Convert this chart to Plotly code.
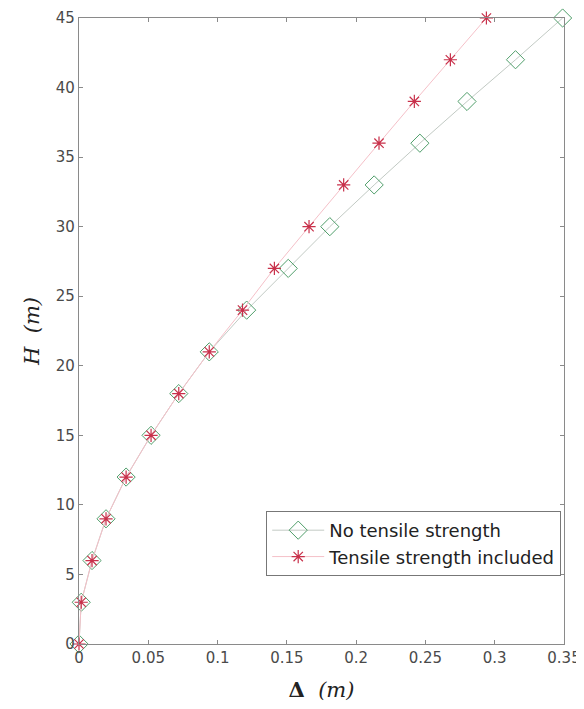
import plotly.graph_objects as go

H = [0, 3, 6, 9, 12, 15, 18, 21, 24, 27, 30, 33, 36, 39, 42, 45]
delta_no_tensile = [0, 0.0016, 0.0094, 0.0195, 0.034, 0.052, 0.072, 0.094, 0.121, 0.151, 0.181, 0.213, 0.246, 0.280, 0.315, 0.349]
delta_tensile = [0, 0.0016, 0.0094, 0.0195, 0.034, 0.052, 0.072, 0.094, 0.118, 0.141, 0.166, 0.191, 0.2165, 0.242, 0.268, 0.294]

fig = go.Figure()
fig.add_trace(go.Scatter(
    x=delta_no_tensile, y=H, mode="lines+markers", name="No tensile strength",
    line=dict(color="#c2cac4", width=1), cliponaxis=False,
    marker=dict(symbol="diamond-open", size=14, color="#4f9e6a", line=dict(width=1)),
))
fig.add_trace(go.Scatter(
    x=delta_tensile, y=H, mode="lines+markers", name="Tensile strength included",
    line=dict(color="#f5c0c8", width=1), cliponaxis=False,
    marker=dict(symbol="asterisk-open", size=11, color="#c8304a", line=dict(width=1.2, color="#c8304a")),
))

axis_common = dict(
    showgrid=False, zeroline=False, showline=True, linecolor="#8a8a8a", linewidth=1.2,
    mirror="ticks", ticks="inside", ticklen=4, tickcolor="#8a8a8a", automargin=False,
    tickfont=dict(family="DejaVu Sans", size=15, color="#4a4a4a"),
)
fig.update_xaxes(range=[0, 0.35], dtick=0.05, tickformat="~g",
                 title=dict(text="<b>Δ</b>  <i>(m)</i>", font=dict(family="DejaVu Serif", size=21, color="#222222"), standoff=16),
                 **axis_common)
fig.update_yaxes(range=[0, 45], dtick=5,
                 title=dict(text="<i>H  (m)</i>", font=dict(family="DejaVu Serif", size=21, color="#222222"), standoff=10),
                 **axis_common)

fig.update_layout(
    width=584, height=701,
    margin=dict(l=71, r=28, t=10, b=65),
    plot_bgcolor="white", paper_bgcolor="white",
    showlegend=True,
    legend=dict(x=0.386, y=0.2125, xanchor="left", yanchor="top",
                bordercolor="#777777", borderwidth=1, bgcolor="white",
                font=dict(family="DejaVu Sans", size=18, color="#222222"),
                tracegroupgap=0, itemwidth=52),
)
fig.write_html("out.html")
